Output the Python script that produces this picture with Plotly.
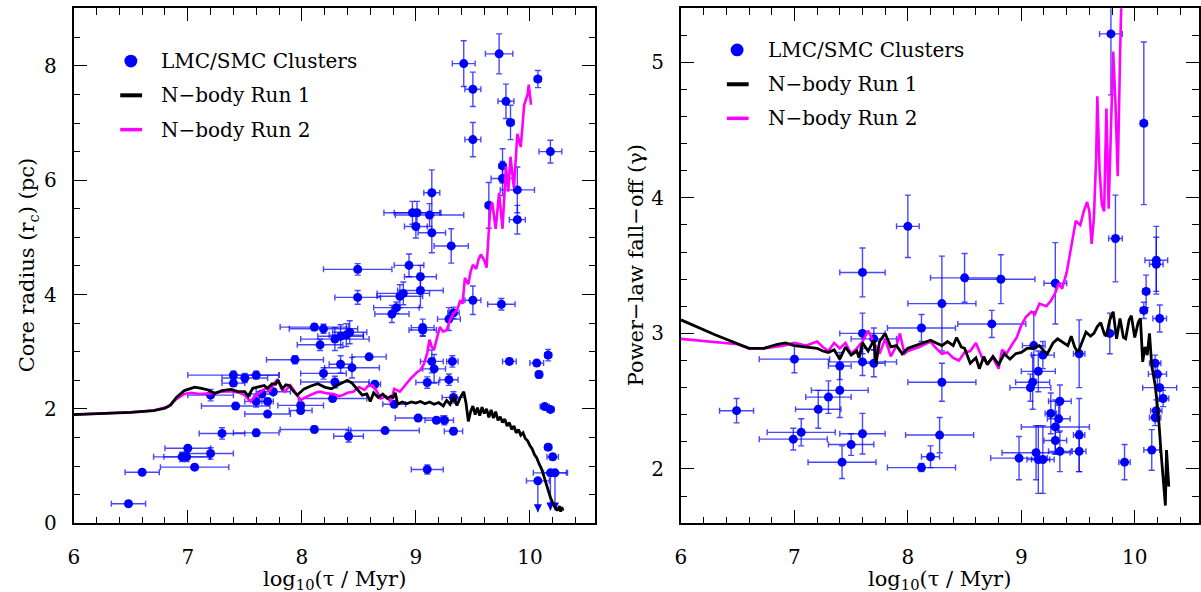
import plotly.graph_objects as go

# ---------------- Left panel: core radius ----------------
L_x = [6.48, 6.60, 7.00, 6.95, 6.99, 7.06, 7.20, 7.30, 7.60, 8.11, 8.41, 8.73, 9.10, 9.02, 9.18, 9.25, 9.33, 9.33,
       10.16, 10.20, 10.13, 10.18, 10.16, 10.06, 10.08, 9.82, 9.75, 9.50, 10.18, 10.07, 9.42, 9.73, 9.50, 9.79, 9.83,
       9.50, 9.76, 9.76, 9.89, 9.89, 9.64, 9.14, 8.97, 9.01, 9.12, 9.00, 9.14, 9.31, 8.94, 9.04, 8.49, 8.49, 9.04,
       8.89, 8.86, 8.83, 8.79, 9.06, 9.06, 9.29, 9.33, 8.11, 8.19, 8.29, 8.34, 8.39, 8.42, 8.16, 7.94, 8.59, 8.34,
       8.44, 8.19, 8.29, 8.64, 7.40, 7.50, 7.60, 7.40, 7.20, 7.42, 7.60, 7.70, 7.65, 7.70, 7.99, 7.99, 8.27, 8.81,
       9.10, 9.14, 9.16, 9.29, 9.32, 7.75]
L_y = [0.34, 0.89, 1.31, 1.16, 1.16, 0.98, 1.22, 1.57, 1.58, 1.64, 1.52, 1.62, 0.94, 1.84, 1.80, 1.80, 1.61, 2.20,
       1.33, 1.16, 2.04, 1.99, 2.94, 2.80, 2.60, 2.83, 3.83, 3.90, 6.50, 7.77, 8.04, 8.21, 7.59, 7.38, 7.01,
       6.71, 6.25, 6.03, 5.83, 5.31, 5.56, 5.78, 5.43, 5.43, 5.39, 5.19, 5.08, 4.85, 4.51, 4.31, 4.44, 3.95, 4.07,
       4.02, 3.97, 3.77, 3.66, 3.42, 3.38, 3.57, 3.68, 3.43, 3.40, 3.22, 3.27, 3.29, 3.34, 3.12, 2.86, 2.91, 2.78,
       2.72, 2.62, 2.47, 2.43, 2.59, 2.54, 2.59, 2.45, 2.24, 2.05, 2.13, 2.13, 2.26, 1.91, 2.06, 1.97, 2.18, 2.08,
       2.46, 2.83, 2.70, 2.51, 2.83, 2.30]
L_ex = [0.15, 0.15, 0.20, 0.25, 0.20, 0.30, 0.20, 0.20, 0.20, 0.30, 0.13, 0.30, 0.14, 0.20, 0.10, 0.08, 0.08, 0.10,
        0.03, 0.05, 0.04, 0.03, 0.03, 0.06, 0.03, 0.06, 0.12, 0.07, 0.10, 0.03, 0.10, 0.12, 0.07, 0.07, 0.03,
        0.07, 0.03, 0.10, 0.15, 0.07, 0.03, 0.07, 0.25, 0.20, 0.30, 0.10, 0.12, 0.15, 0.13, 0.14, 0.30, 0.20, 0.20,
        0.23, 0.20, 0.20, 0.15, 0.10, 0.12, 0.10, 0.05, 0.30, 0.30, 0.30, 0.20, 0.15, 0.15, 0.20, 0.25, 0.15, 0.10,
        0.24, 0.20, 0.30, 0.05, 0.40, 0.20, 0.20, 0.10, 0.20, 0.30, 0.10, 0.05, 0.10, 0.20, 0.20, 0.10, 0.30, 0.10,
        0.10, 0.10, 0.10, 0.08, 0.05, 0.15]
L_ey = [0.03, 0.03, 0.05, 0.08, 0.08, 0.04, 0.10, 0.10, 0.06, 0.06, 0.10, 0.03, 0.08, 0.03, 0.05, 0.08, 0.06, 0.10,
        0.05, 0.05, 0.05, 0.03, 0.10, 0.05, 0.06, 0.05, 0.10, 0.25, 0.20, 0.15, 0.40, 0.35, 0.30, 0.30, 0.30,
        0.30, 0.30, 0.30, 0.40, 0.25, 0.40, 0.40, 0.20, 0.20, 0.20, 0.20, 0.35, 0.30, 0.20, 0.20, 0.10, 0.12, 0.30,
        0.20, 0.20, 0.10, 0.15, 0.15, 0.10, 0.20, 0.10, 0.06, 0.08, 0.20, 0.20, 0.20, 0.20, 0.10, 0.07, 0.03, 0.15,
        0.18, 0.10, 0.10, 0.05, 0.07, 0.08, 0.07, 0.05, 0.10, 0.05, 0.10, 0.05, 0.05, 0.03, 0.05, 0.05, 0.05, 0.05,
        0.10, 0.20, 0.25, 0.10, 0.10, 0.05]

# upper limits (arrows)
UL_x = [10.07, 10.18, 10.22]
UL_y = [0.74, 0.88, 0.88]
UL_ex = [0.10, 0.15, 0.10]
UL_len = [0.55, 0.66, 0.66]

R1L_x = [6.00, 6.50, 6.70, 6.80, 6.85, 6.90, 6.97, 7.06, 7.12, 7.18, 7.24, 7.30, 7.38, 7.44, 7.50, 7.53, 7.57, 7.62,
         7.67, 7.70, 7.74, 7.77, 7.79, 7.83, 7.86, 7.89, 7.93, 7.96, 8.02, 8.08, 8.14, 8.20, 8.26, 8.32, 8.37, 8.40,
         8.44, 8.48, 8.53, 8.57, 8.60, 8.63, 8.67, 8.71, 8.75, 8.78, 8.80, 8.82, 8.84, 8.88, 8.92, 8.96, 9.00, 9.04,
         9.08, 9.12, 9.16, 9.20, 9.24, 9.27, 9.30, 9.33, 9.36, 9.39, 9.42, 9.44, 9.46, 9.48, 9.50, 9.52, 9.54, 9.56,
         9.58, 9.60, 9.62, 9.64, 9.66, 9.68, 9.70, 9.72, 9.74, 9.76, 9.78, 9.80, 9.82, 9.84, 9.86, 9.88, 9.90, 9.92,
         9.94, 9.96, 9.98, 10.00, 10.02, 10.04, 10.06, 10.08, 10.10, 10.12, 10.14, 10.16, 10.18, 10.20, 10.22, 10.24,
         10.26, 10.27, 10.28, 10.29]
R1L_y = [1.90, 1.94, 1.97, 2.01, 2.07, 2.20, 2.32, 2.38, 2.36, 2.33, 2.27, 2.32, 2.34, 2.30, 2.30, 2.22, 2.36, 2.38,
         2.41, 2.36, 2.44, 2.43, 2.50, 2.35, 2.42, 2.41, 2.30, 2.24, 2.35, 2.40, 2.44, 2.38, 2.35, 2.42, 2.47, 2.50,
         2.45, 2.35, 2.24, 2.26, 2.13, 2.28, 2.20, 2.26, 2.18, 2.22, 2.20, 2.28, 2.08, 2.12, 2.09, 2.12, 2.10, 2.13,
         2.09, 2.12, 2.08, 2.11, 2.05, 2.15, 2.08, 2.22, 2.06, 2.20, 2.30, 2.10, 1.78, 1.95, 2.05, 1.90, 2.02, 1.88,
         2.03, 1.92, 2.00, 1.85, 1.98, 1.84, 1.95, 1.80, 1.86, 1.76, 1.82, 1.70, 1.76, 1.64, 1.70, 1.58, 1.64, 1.54,
         1.58, 1.48, 1.44, 1.36, 1.30, 1.20, 1.14, 1.04, 0.96, 0.84, 0.70, 0.58, 0.45, 0.36, 0.28, 0.22,
         0.30, 0.20, 0.28, 0.22]

R2L_x = [6.00, 6.50, 6.70, 6.83, 6.90, 6.97, 7.03, 7.10, 7.20, 7.30, 7.38, 7.45, 7.50, 7.55, 7.58, 7.62, 7.68, 7.72,
         7.76, 7.79, 7.82, 7.85, 7.90, 7.94, 7.99, 8.03, 8.07, 8.12, 8.16, 8.22, 8.28, 8.32, 8.36, 8.40, 8.45, 8.50,
         8.55, 8.58, 8.62, 8.66, 8.69, 8.74, 8.78, 8.81, 8.86, 8.90, 8.95, 9.01, 9.04, 9.07, 9.10, 9.12, 9.14, 9.16,
         9.19, 9.21, 9.24, 9.27, 9.30, 9.33, 9.36, 9.39, 9.41, 9.43, 9.46, 9.48, 9.50, 9.53, 9.55, 9.57, 9.60, 9.62,
         9.65, 9.67, 9.70, 9.73, 9.76, 9.79, 9.81, 9.83, 9.86, 9.89, 9.92, 9.95, 9.98, 9.99, 10.01]
R2L_y = [1.90, 1.94, 1.97, 2.04, 2.17, 2.26, 2.28, 2.26, 2.27, 2.30, 2.31, 2.28, 2.24, 2.13, 2.20, 2.27, 2.36, 2.32,
         2.45, 2.52, 2.35, 2.30, 2.41, 2.30, 2.15, 2.20, 2.24, 2.28, 2.30, 2.27, 2.26, 2.22, 2.24, 2.28, 2.30, 2.38,
         2.33, 2.40, 2.41, 2.30, 2.18, 2.22, 2.12, 2.35, 2.30, 2.40, 2.52, 2.64, 2.68, 2.78, 2.98, 3.21, 3.08, 3.04,
         3.30, 3.43, 3.35, 3.38, 3.55, 3.67, 3.72, 3.90, 3.84, 4.29, 4.18, 4.40, 4.52, 4.45, 4.62, 4.70, 4.60, 4.47,
         5.44, 5.61, 5.15, 5.78, 5.15, 6.24, 5.80, 6.41, 5.86, 6.81, 6.58, 7.32, 7.50, 7.67, 7.32]

# ---------------- Right panel: power-law fall-off ----------------
G_x = [6.49, 7.00, 6.99, 7.06, 7.21, 7.30, 7.40, 7.40, 7.42, 7.50, 7.60, 7.60, 7.60, 7.60, 7.70, 7.70, 8.00, 8.12,
       8.12, 8.20, 8.28, 8.30, 8.30, 8.50, 8.82, 8.74, 8.98, 9.08, 9.10, 9.11, 9.13, 9.15, 9.15, 9.19, 9.19, 9.26,
       9.30, 9.30, 9.30, 9.33, 9.34, 9.34, 9.51, 9.51, 9.51, 9.78, 9.79, 9.83, 9.91, 10.08, 10.08, 10.10, 10.19,
       10.19, 10.22, 10.18, 10.20, 10.22, 10.25, 10.19, 10.18, 10.15]
G_y = [2.43, 2.81, 2.22, 2.27, 2.44, 2.53, 2.58, 2.76, 2.05, 2.18, 2.26, 3.45, 3.00, 2.79, 2.78, 2.96, 3.79, 3.04,
       2.01, 2.09, 2.25, 3.22, 2.64, 3.41, 3.40, 3.07, 2.08, 2.60, 2.64, 2.91, 2.12, 2.72, 2.07, 2.07, 2.84, 2.41,
       2.31, 2.21, 3.37, 2.37, 2.50, 2.13, 2.85, 2.25, 2.13, 3.00, 5.21, 3.70, 2.05, 4.55, 3.17, 3.31, 3.54,
       3.51, 3.11, 2.78, 2.70, 2.60, 2.52, 2.43, 2.38, 2.14]
G_ex = [0.15, 0.31, 0.30, 0.30, 0.20, 0.20, 0.25, 0.10, 0.30, 0.20, 0.20, 0.20, 0.20, 0.30, 0.10, 0.20, 0.10, 0.30,
        0.30, 0.08, 0.30, 0.30, 0.30, 0.30, 0.30, 0.30, 0.25, 0.18, 0.15, 0.10, 0.30, 0.15, 0.10, 0.10, 0.10, 0.05,
        0.30, 0.10, 0.10, 0.10, 0.10, 0.10, 0.05, 0.05, 0.06, 0.05, 0.10, 0.06, 0.05, 0.03, 0.03, 0.03, 0.10,
        0.06, 0.06, 0.05, 0.08, 0.15, 0.05, 0.05, 0.05, 0.07]
G_ey = [0.09, 0.10, 0.08, 0.10, 0.14, 0.12, 0.20, 0.10, 0.12, 0.08, 0.15, 0.18, 0.15, 0.10, 0.10, 0.08, 0.23, 0.10,
        0.03, 0.08, 0.13, 0.35, 0.14, 0.18, 0.18, 0.10, 0.16, 0.10, 0.20, 0.25, 0.20, 0.15, 0.25, 0.25, 0.10, 0.15,
        0.20, 0.10, 0.30, 0.10, 0.12, 0.15, 0.25, 0.27, 0.15, 0.15, 0.45, 0.32, 0.13, 0.60, 0.06, 0.12, 0.25,
        0.20, 0.10, 0.06, 0.08, 0.10, 0.06, 0.08, 0.06, 0.15]

R1R_x = [6.00, 6.30, 6.60, 6.73, 6.85, 6.92, 7.00, 7.10, 7.20, 7.25, 7.30, 7.35, 7.40, 7.45, 7.50, 7.55, 7.57, 7.60,
         7.65, 7.70, 7.72, 7.75, 7.80, 7.85, 7.90, 7.95, 8.00, 8.10, 8.20, 8.25, 8.30, 8.35, 8.40, 8.43, 8.47, 8.50,
         8.55, 8.60, 8.63, 8.67, 8.70, 8.75, 8.80, 8.85, 8.90, 8.95, 9.00, 9.05, 9.10, 9.16, 9.20, 9.23, 9.28, 9.32,
         9.37, 9.41, 9.44, 9.47, 9.50, 9.54, 9.57, 9.61, 9.64, 9.67, 9.70, 9.73, 9.75, 9.78, 9.81, 9.84, 9.87, 9.90,
         9.92, 9.95, 9.97, 10.00, 10.03, 10.05, 10.07, 10.09, 10.11, 10.13, 10.15, 10.18, 10.21, 10.23, 10.25, 10.27,
         10.28, 10.29, 10.30]
R1R_y = [3.10, 2.99, 2.89, 2.89, 2.92, 2.93, 2.91, 2.90, 2.89, 2.87, 2.86, 2.88, 2.81, 2.90, 2.84, 2.87, 2.82, 2.93,
         2.87, 2.95, 2.78, 2.94, 3.00, 2.90, 2.91, 2.85, 2.89, 2.92, 2.95, 2.93, 2.91, 2.94, 2.91, 2.97, 2.90, 2.89,
         2.78, 2.82, 2.74, 2.83, 2.77, 2.83, 2.77, 2.85, 2.81, 2.85, 2.86, 2.89, 2.89, 2.91, 2.87, 2.85, 2.93, 2.96,
         2.93, 2.91, 2.98, 2.90, 2.86, 2.95, 3.01, 2.98, 3.00, 3.05, 3.08, 3.00, 2.98, 3.10, 3.16, 2.96, 3.11, 2.97,
         2.96, 3.10, 3.13, 2.97, 3.08, 3.11, 2.79, 2.90, 2.84, 3.00, 2.76, 2.62, 2.38, 2.14, 1.90, 1.73,
         2.14, 1.95, 1.87]

R2R_x = [6.00, 6.50, 6.60, 6.73, 6.90, 7.00, 7.10, 7.20, 7.25, 7.30, 7.35, 7.40, 7.45, 7.50, 7.55, 7.60, 7.65, 7.70,
         7.75, 7.80, 7.85, 7.90, 7.93, 7.97, 8.00, 8.10, 8.20, 8.25, 8.30, 8.35, 8.40, 8.45, 8.50, 8.55, 8.60, 8.65,
         8.70, 8.75, 8.80, 8.83, 8.87, 8.92, 8.96, 9.00, 9.04, 9.09, 9.12, 9.16, 9.22, 9.26, 9.30, 9.33, 9.36, 9.40,
         9.42, 9.45, 9.48, 9.52, 9.55, 9.58, 9.60, 9.62, 9.64, 9.66, 9.67, 9.69, 9.71, 9.73, 9.75, 9.77, 9.80, 9.81,
         9.83, 9.85, 9.87, 9.88, 9.90]
R2R_y = [2.96, 2.92, 2.89, 2.89, 2.91, 2.93, 2.91, 2.94, 2.90, 2.87, 2.93, 2.89, 2.93, 2.85, 2.89, 2.94, 3.02, 2.94,
         2.85, 2.96, 2.83, 2.91, 3.00, 2.85, 2.87, 2.90, 2.94, 2.89, 2.85, 2.86, 2.82, 2.80, 2.86, 2.87, 2.93, 2.83,
         2.78, 2.82, 2.74, 2.88, 2.85, 2.92, 2.97, 3.06, 3.12, 3.16, 3.14, 3.22, 3.20, 3.24, 3.30, 3.37, 3.33, 3.45,
         3.54, 3.70, 3.83, 3.80, 3.90, 3.97, 3.90, 3.66, 3.85, 4.30, 4.75, 4.20, 3.95, 3.90, 4.66, 3.92, 4.72, 5.08,
         4.70, 4.16, 5.03, 5.39, 5.45]

BLUE = "#0000ff"
EBAR = "rgba(0,0,255,0.72)"
FONT = "DejaVu Serif"

fig = go.Figure()


def points(x, y, ex, ey, xa, ya):
    fig.add_trace(go.Scatter(
        x=x, y=y, mode="markers", xaxis=xa, yaxis=ya, showlegend=False,
        marker=dict(color=BLUE, size=9, line=dict(width=0)),
        error_x=dict(type="data", array=ex, color=EBAR, thickness=1.4, width=3),
        error_y=dict(type="data", array=ey, color=EBAR, thickness=1.4, width=3),
    ))


def curve(x, y, color, width, xa, ya):
    fig.add_trace(go.Scatter(x=x, y=y, mode="lines", xaxis=xa, yaxis=ya, showlegend=False,
                             line=dict(color=color, width=width)))


# left panel
points(L_x, L_y, L_ex, L_ey, "x", "y")
fig.add_trace(go.Scatter(
    x=UL_x, y=UL_y, mode="markers", xaxis="x", yaxis="y", showlegend=False,
    marker=dict(color=BLUE, size=9),
    error_x=dict(type="data", array=UL_ex, color=EBAR, thickness=1.4, width=3),
    error_y=dict(type="data", symmetric=False, array=[0.03] * len(UL_x), arrayminus=UL_len,
                 color=EBAR, thickness=1.4, width=0),
))
fig.add_trace(go.Scatter(
    x=UL_x, y=[y - d for y, d in zip(UL_y, UL_len)], mode="markers", xaxis="x", yaxis="y",
    showlegend=False, marker=dict(symbol="arrow-down", color=BLUE, size=8),
))
curve(R2L_x, R2L_y, "#ff00ff", 2.6, "x", "y")
curve(R1L_x, R1L_y, "#000000", 2.8, "x", "y")

# right panel
points(G_x, G_y, G_ex, G_ey, "x2", "y2")
curve(R2R_x, R2R_y, "#ff00ff", 2.6, "x2", "y2")
curve(R1R_x, R1R_y, "#000000", 2.8, "x2", "y2")

W, H = 1201, 592
YD = [1 - 534 / H, 1 - 8.3 / H]


def axis(domain, rng, dtick, minor, standoff, **kw):
    d = dict(domain=domain, range=rng, dtick=dtick, tick0=0, ticks="inside", ticklen=13, tickwidth=1.3,
             tickcolor="black", showline=True, linecolor="black", linewidth=2, mirror="allticks",
             showgrid=False, zeroline=False, tickfont=dict(family=FONT, size=20, color="black"),
             ticklabelstandoff=standoff,
             minor=dict(dtick=minor, tick0=0, ticks="inside", ticklen=6.5, tickwidth=1.2, tickcolor="black",
                        showgrid=False))
    d.update(kw)
    return d


fig.update_layout(
    width=W, height=H, margin=dict(l=0, r=0, t=0, b=0),
    paper_bgcolor="white", plot_bgcolor="white", showlegend=False,
    xaxis=axis([68.2 / W, 593.3 / W], [6, 10.574], 1, 0.2, 15, anchor="y"),
    yaxis=axis(YD, [0, 9.01], 2, 0.5, 11, anchor="x"),
    xaxis2=axis([679.5 / W, 1200.5 / W], [6, 10.562], 1, 0.2, 15, anchor="y2"),
    yaxis2=axis(YD, [1.6, 5.4], 1, 0.2, 11, anchor="x2"),
)

ann = []
shapes = []


def px(xp, yp):
    return xp / W, 1 - yp / H


# axis titles
for cx, txt in [(331, "log<sub>10</sub>(τ / Myr)"), (940, "log<sub>10</sub>(τ / Myr)")]:
    x, y = px(cx, 580)
    ann.append(dict(x=x, y=y, xref="paper", yref="paper", text=txt, showarrow=False, yshift=-12,
                    font=dict(family=FONT, size=21, color="black"), xanchor="center", yanchor="middle"))
for cx, txt in [(22, "Core radius (r<sub>c</sub>) (pc)"), (634, "Power−law fall−off (γ)")]:
    x, y = px(cx, 271)
    ann.append(dict(x=x, y=y, xref="paper", yref="paper", text=txt, showarrow=False, textangle=-90,
                    font=dict(family=FONT, size=21, color="black"), xanchor="center", yanchor="middle"))

# legends
LEG = [
    (125.7, 62.3, 115, 137, 97.3, 132.3, 158.3),
    (736.0, 51.0, 725.7, 747.6, 86.0, 120.8, 768.6),
]
labels = ["LMC/SMC Clusters", "N−body Run 1", "N−body Run 2"]
for (mx, my, l0, l1, yb, ym, tx) in LEG:
    r = 6.5
    shapes.append(dict(type="circle", xref="paper", yref="paper",
                       x0=(mx - r) / W, x1=(mx + r) / W, y0=1 - (my + r) / H, y1=1 - (my - r) / H,
                       fillcolor=BLUE, line=dict(width=0)))
    shapes.append(dict(type="line", xref="paper", yref="paper", x0=l0 / W, x1=l1 / W,
                       y0=1 - yb / H, y1=1 - yb / H, line=dict(color="black", width=4)))
    shapes.append(dict(type="line", xref="paper", yref="paper", x0=l0 / W, x1=l1 / W,
                       y0=1 - ym / H, y1=1 - ym / H, line=dict(color="#ff00ff", width=3.5)))
    for lab, yy in zip(labels, [my, yb, ym]):
        x, y = px(tx - 4, yy)
        ann.append(dict(x=x, y=y, xref="paper", yref="paper", text=lab, showarrow=False,
                        font=dict(family=FONT, size=20, color="black"), xanchor="left", yanchor="middle"))

fig.update_layout(annotations=ann, shapes=shapes)
fig.write_html("out.html")
